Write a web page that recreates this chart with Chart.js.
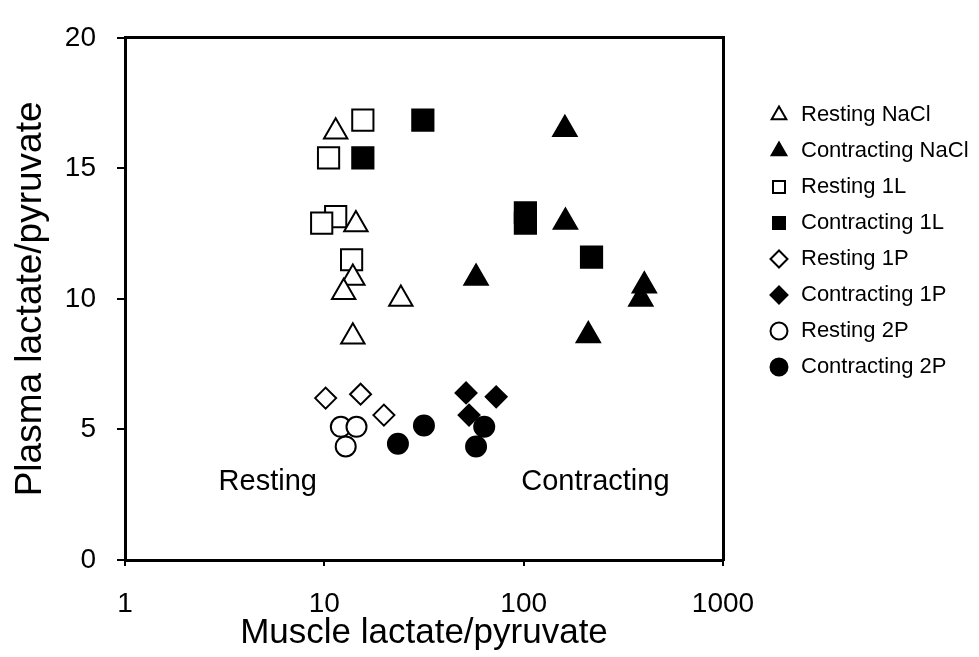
<!DOCTYPE html>
<html>
<head>
<meta charset="utf-8">
<script src="https://cdn.jsdelivr.net/npm/chart.js@4.4.1/dist/chart.umd.min.js"></script>
<style>
  html, body { margin: 0; padding: 0; background: #ffffff; }
  canvas { display: block; }
</style>
</head>
<body>
<canvas id="chart" width="979" height="657"></canvas>
<script>
// ---- Data ----
const seriesNames = [
  'Resting NaCl', 'Contracting NaCl', 'Resting 1L', 'Contracting 1L',
  'Resting 1P', 'Contracting 1P', 'Resting 2P', 'Contracting 2P'
];
// [muscle lactate/pyruvate, plasma lactate/pyruvate]
const restingNaCl      = [[11.4, 16.4], [14.4, 12.85], [13.9, 10.8], [12.5, 10.25], [24.2, 10.0], [13.9, 8.55]];
const contractingNaCl  = [[161, 16.5], [162, 12.95], [57.7, 10.8], [403, 10.5], [387, 10.0], [211, 8.6]];
const resting1L        = [[15.6, 16.85], [10.5, 15.4], [11.4, 13.15], [9.7, 12.9], [13.7, 11.5]];
const contracting1L    = [[31.2, 16.85], [15.6, 15.4], [102, 13.3], [102, 12.9], [219, 11.6]];
const resting1P        = [[10.15, 6.2], [15.2, 6.35], [19.9, 5.55]];
const contracting1P    = [[51.4, 6.4], [72.8, 6.25], [53.2, 5.55]];
const resting2P        = [[12.1, 5.1], [14.5, 5.1], [12.8, 4.35]];
const contracting2P    = [[23.4, 4.45], [31.6, 5.15], [57.7, 4.35], [63.4, 5.1]];

const xTickValues = [1, 10, 100, 1000];
const yTickValues = [0, 5, 10, 15, 20];
const xTitle = 'Muscle lactate/pyruvate';
const yTitle = 'Plasma lactate/pyruvate';
const regionLabels = ['Resting', 'Contracting'];
const regionAnchorX = [5.2, 229];
const regionAnchorY = [3.0, 3.0];

// ---- Styling ----
const FONT = "'Liberation Sans', Arial, Helvetica, sans-serif";
Chart.defaults.font.family = FONT;
Chart.defaults.color = '#000';

const seriesData = [restingNaCl, contractingNaCl, resting1L, contracting1L,
                    resting1P, contracting1P, resting2P, contracting2P];
const seriesShape = ['triangle', 'triangle', 'rect', 'rect', 'rectRot', 'rectRot', 'circle', 'circle'];
const shapeRadius = { triangle: 13.5, rect: 15, rectRot: 10.5, circle: 10 };

const datasets = seriesData.map((pts, i) => {
  const filled = i % 2 === 1;
  const shape = seriesShape[i];
  return {
    label: seriesNames[i],
    data: pts.map(p => ({ x: p[0], y: p[1] })),
    pointStyle: shape,
    pointRadius: shapeRadius[shape],
    pointHoverRadius: shapeRadius[shape],
    backgroundColor: filled ? '#000' : '#fff',
    borderColor: '#000',
    borderWidth: 2,
    showLine: false
  };
});

const CHART_RIGHT = 723;
const LEGEND_LEFT = 754;

const legendWidthFix = {
  id: 'legendWidthFix',
  beforeLayout(chart) {
    const lg = chart.legend;
    if (lg && !lg._widthPatched) {
      const orig = lg.fit.bind(lg);
      lg.fit = function () { orig(); this.width = chart.width - LEGEND_LEFT; };
      lg._widthPatched = true;
    }
  }
};

const regionText = {
  id: 'regionText',
  afterDatasetsDraw(chart) {
    const { ctx } = chart;
    const xs = chart.scales.x, ys = chart.scales.y;
    ctx.save();
    ctx.font = '29px ' + FONT;
    ctx.fillStyle = '#000';
    ctx.textAlign = 'center';
    ctx.textBaseline = 'middle';
    regionLabels.forEach((t, i) => {
      ctx.fillText(t, xs.getPixelForValue(regionAnchorX[i]), ys.getPixelForValue(regionAnchorY[i]));
    });
    ctx.restore();
  }
};

new Chart(document.getElementById('chart'), {
  type: 'scatter',
  data: { datasets },
  plugins: [legendWidthFix, regionText],
  options: {
    responsive: false,
    animation: false,
    events: [],
    layout: { padding: { top: 18, left: 0, right: 0, bottom: 0 } },
    plugins: {
      tooltip: { enabled: false },
      legend: {
        position: 'right',
        align: 'start',
        title: { display: true, text: ' ', font: { size: 12 }, padding: 28.8 },
        labels: {
          usePointStyle: true,
          boxWidth: 22,
          boxHeight: 12,
          padding: 14,
          color: '#000',
          font: { size: 22, family: FONT }
        }
      }
    },
    scales: {
      x: {
        type: 'logarithmic',
        position: 'bottom',
        min: 1,
        max: 1000,
        afterBuildTicks: s => { s.ticks = xTickValues.map(v => ({ value: v })); },
        afterFit: s => { s.height = 97; },
        ticks: {
          callback: v => String(v),
          font: { size: 28 },
          color: '#000',
          padding: 21,
          maxRotation: 0,
          autoSkip: false
        },
        grid: { display: true, drawOnChartArea: false, drawTicks: true, tickLength: 6, color: '#000', lineWidth: 2 },
        border: { display: true, color: '#000', width: 3 },
        title: { display: true, text: xTitle, font: { size: 35 }, color: '#000', padding: { top: 0, bottom: 3 } }
      },
      y: {
        type: 'linear',
        position: 'left',
        min: 0,
        max: 20,
        afterBuildTicks: s => { s.ticks = yTickValues.map(v => ({ value: v })); },
        afterFit: s => { s.width = 125; },
        ticks: { font: { size: 28 }, color: '#000', padding: 21 },
        grid: { display: true, drawOnChartArea: false, drawTicks: true, tickLength: 8, color: '#000', lineWidth: 2 },
        border: { display: true, color: '#000', width: 3 },
        title: { display: true, text: yTitle, font: { size: 37 }, color: '#000', padding: { top: 9, bottom: 0 } }
      },
      x2: {
        type: 'logarithmic',
        axis: 'x',
        position: 'top',
        min: 1,
        max: 1000,
        afterFit: s => { s.height = 0; },
        ticks: { display: false },
        grid: { display: false },
        border: { display: true, color: '#000', width: 3 }
      },
      y2: {
        type: 'linear',
        axis: 'y',
        position: 'right',
        min: 0,
        max: 20,
        afterFit: s => { s.width = LEGEND_LEFT - CHART_RIGHT; },
        ticks: { display: false },
        grid: { display: false },
        border: { display: true, color: '#000', width: 3 }
      }
    }
  }
});
</script>
</body>
</html>
